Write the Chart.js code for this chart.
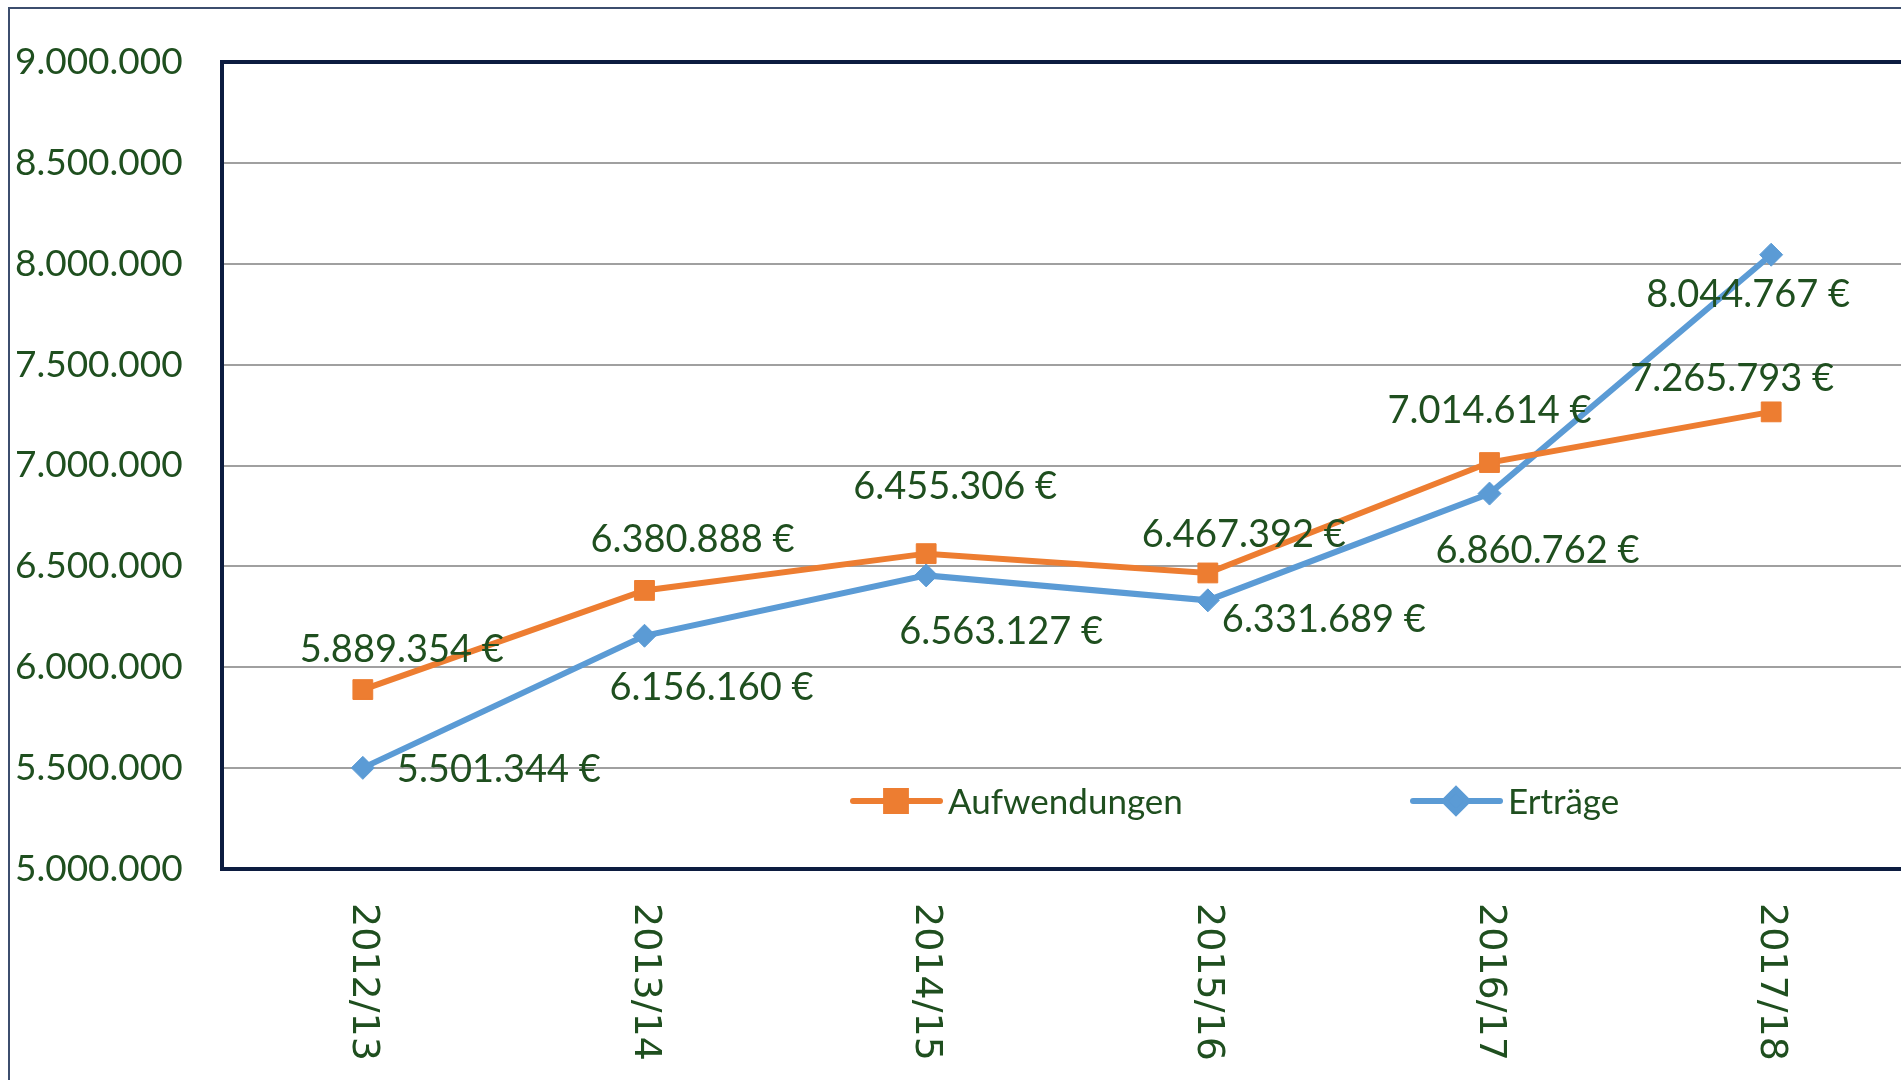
<!DOCTYPE html>
<html>
<head>
<meta charset="utf-8">
<script src="https://cdn.jsdelivr.net/npm/chart.js@4.4.0/dist/chart.umd.min.js"></script>
<style>
  html, body { margin: 0; padding: 0; background: #fff; overflow: hidden; }
  #frame { position: absolute; left: 8px; top: 7px; width: 1920px; height: 1100px; border: 2px solid #3c4e6e; }
  #frame canvas { display: block; }
</style>
</head>
<body>
<div id="frame"><canvas id="chart" width="1920" height="1100"></canvas></div>
<script>
const years = ['2012/13', '2013/14', '2014/15', '2015/16', '2016/17', '2017/18'];
const aufwendungen = [5889354, 6380888, 6563127, 6467392, 7014614, 7265793];
const ertraege = [5501344, 6156160, 6455306, 6331689, 6860762, 8044767];
// label texts as printed in the original (2014/15 labels are swapped there)
const aufwendungenLabels = ['5.889.354 €', '6.380.888 €', '6.455.306 €', '6.467.392 €', '7.014.614 €', '7.265.793 €'];
const ertraegeLabels = ['5.501.344 €', '6.156.160 €', '6.563.127 €', '6.331.689 €', '6.860.762 €', '8.044.767 €'];
const yMin = 5000000, yMax = 9000000, yStep = 500000;

const textGreen = '#1f4f1f';
const navy = '#0c1c40';

function formatDE(v) {
    return String(Math.round(v)).replace(/\B(?=(\d{3})+(?!\d))/g, '.');
}

// outline round the plot area
const plotBorder = {
    id: 'plotBorder',
    beforeDatasetsDraw(chart) {
        const a = chart.chartArea, ctx = chart.ctx;
        ctx.save();
        ctx.strokeStyle = navy;
        ctx.lineWidth = 4;
        ctx.strokeRect(a.left, a.top, a.right - a.left, a.bottom - a.top);
        ctx.restore();
    }
};

// value labels next to the points
const valueLabels = {
    id: 'valueLabels',
    afterDatasetsDraw(chart) {
        const ctx = chart.ctx;
        ctx.save();
        ctx.font = '38px Lato';
        ctx.fillStyle = textGreen;
        ctx.textAlign = 'center';
        ctx.textBaseline = 'middle';
        chart.data.datasets.forEach((ds, i) => {
            chart.getDatasetMeta(i).data.forEach((pt, j) => {
                const off = ds.labelOffsets[j];
                ctx.fillText(ds.valueLabels[j], pt.x + off[0], pt.y + off[1]);
            });
        });
        ctx.restore();
    }
};

// rotated category labels (reading top to bottom)
const xLabels = {
    id: 'xLabels',
    afterDraw(chart) {
        const ctx = chart.ctx, xs = chart.scales.x;
        ctx.save();
        ctx.font = '38px "DejaVu Sans"';
        ctx.fillStyle = textGreen;
        ctx.textAlign = 'left';
        ctx.textBaseline = 'middle';
        chart.data.labels.forEach((lab, i) => {
            ctx.save();
            ctx.translate(xs.getPixelForValue(i), chart.chartArea.bottom + 34);
            ctx.rotate(Math.PI / 2);
            ctx.fillText(lab, 0, 0);
            ctx.restore();
        });
        ctx.restore();
    }
};

// legend inside the plot area
const innerLegend = {
    id: 'innerLegend',
    afterDatasetsDraw(chart) {
        const ctx = chart.ctx, a = chart.chartArea;
        const y = a.bottom - 68;
        const starts = [631, 1191];
        ctx.save();
        chart.data.datasets.forEach((ds, i) => {
            const x0 = a.left + starts[i];
            ctx.strokeStyle = ds.borderColor;
            ctx.lineWidth = 6;
            ctx.lineCap = 'round';
            ctx.beginPath();
            ctx.moveTo(x0, y);
            ctx.lineTo(x0 + 87, y);
            ctx.stroke();
            ctx.fillStyle = ds.backgroundColor;
            ctx.strokeStyle = ds.borderColor;
            Chart.helpers.drawPoint(ctx, {
                pointStyle: ds.pointStyle, radius: ds.pointRadius,
                borderWidth: 1, rotation: 0
            }, x0 + 43, y);
            ctx.fillStyle = textGreen;
            ctx.font = '35px Lato';
            ctx.textAlign = 'left';
            ctx.textBaseline = 'middle';
            ctx.fillText(ds.label, x0 + 95, y + 2);
        });
        ctx.restore();
    }
};

new Chart(document.getElementById('chart'), {
    type: 'line',
    data: {
        labels: years,
        datasets: [{
            label: 'Aufwendungen',
            data: aufwendungen,
            valueLabels: aufwendungenLabels,
            labelOffsets: [[39, -40], [48, -51], [29, -67], [36, -38], [0, -52], [-39, -33]],
            borderColor: '#ED7D31',
            backgroundColor: '#ED7D31',
            borderWidth: 6,
            pointStyle: 'rect',
            pointRadius: 14,
            pointBorderWidth: 1,
            tension: 0
        }, {
            label: 'Erträge',
            data: ertraege,
            valueLabels: ertraegeLabels,
            labelOffsets: [[136, 2], [67, 52], [75, 56], [116, 19], [48, 57], [-23, 40]],
            borderColor: '#5B9BD5',
            backgroundColor: '#5B9BD5',
            borderWidth: 6,
            pointStyle: 'rectRot',
            pointRadius: 11.5,
            pointBorderWidth: 1,
            tension: 0
        }]
    },
    options: {
        responsive: false,
        animation: false,
        layout: { padding: { left: 5, top: 53, right: 18, bottom: 0 } },
        plugins: {
            legend: { display: false },
            tooltip: { enabled: false }
        },
        scales: {
            x: {
                offset: true,
                grid: { display: false },
                border: { display: false },
                ticks: { display: false },
                afterFit(s) { s.height = 240; }
            },
            y: {
                min: yMin,
                max: yMax,
                grid: { color: '#a0a0a0', lineWidth: 2, drawTicks: false },
                border: { display: false },
                ticks: {
                    stepSize: yStep,
                    color: textGreen,
                    font: { family: 'Lato', size: 37 },
                    crossAlign: 'far',
                    callback: v => formatDE(v)
                },
                afterFit(s) { s.width = 207; }
            }
        }
    },
    plugins: [plotBorder, valueLabels, xLabels, innerLegend]
});
</script>
</body>
</html>
